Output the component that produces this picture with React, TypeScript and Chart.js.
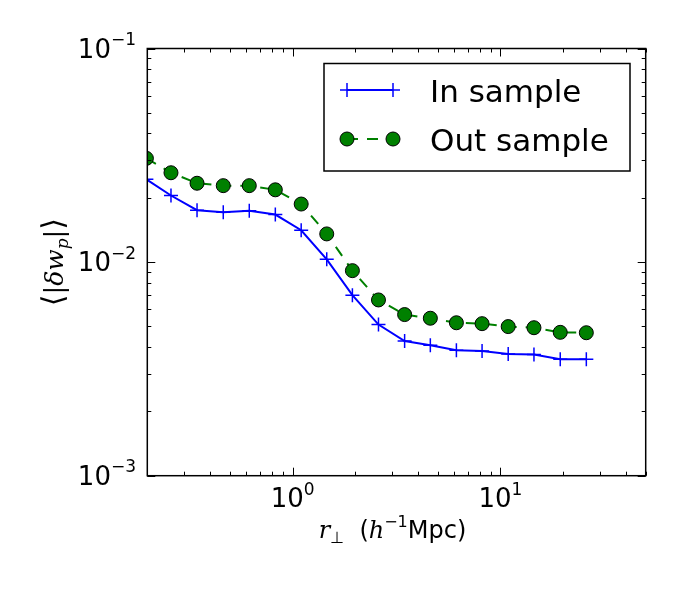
import React, { useEffect, useRef } from "react";
import { Chart, registerables } from "chart.js";

Chart.register(...registerables);

// ---- data ----
const rPerp = [0.198, 0.26, 0.347, 0.464, 0.619, 0.826, 1.1, 1.46, 1.94, 2.59, 3.46, 4.6, 6.14, 8.16, 10.9, 14.5, 19.4, 25.9];
const inSample = [0.0244, 0.0205, 0.0175, 0.0171, 0.0174, 0.0167, 0.0141, 0.0103, 0.007, 0.0051, 0.00427, 0.00408, 0.00387, 0.00384, 0.00371, 0.00369, 0.00351, 0.00351];
const outSample = [0.0306, 0.0262, 0.0234, 0.0228, 0.0228, 0.0218, 0.0187, 0.01355, 0.00912, 0.00665, 0.00568, 0.00546, 0.0052, 0.00515, 0.00499, 0.00493, 0.00469, 0.00467];
const seriesLabels = ["In sample", "Out sample"];
const xLimits = [0.2, 50];
const yLimits = [0.001, 0.1];
const xTickExponents = [0, 1];
const yTickExponents = [-3, -2, -1];

const sans = (px: number) => `${px}px "DejaVu Sans"`;
const serifIt = (px: number) => `italic ${px}px "DejaVu Serif"`;
const serif = (px: number) => `${px}px "DejaVu Serif"`;

type Run = { t: string; font: string; dy: number };

function runsWidth(ctx: CanvasRenderingContext2D, runs: Run[]) {
  let w = 0;
  for (const r of runs) {
    ctx.font = r.font;
    w += ctx.measureText(r.t).width;
  }
  return w;
}

function drawRuns(ctx: CanvasRenderingContext2D, runs: Run[], x: number, y: number) {
  let cx = x;
  for (const r of runs) {
    ctx.font = r.font;
    ctx.fillText(r.t, cx, y + r.dy);
    cx += ctx.measureText(r.t).width;
  }
}

const decoPlugin = {
  id: "deco",
  beforeDraw(chart: any) {
    const ctx = chart.ctx as CanvasRenderingContext2D;
    ctx.save();
    ctx.fillStyle = "#ffffff";
    ctx.fillRect(0, 0, chart.width, chart.height);
    ctx.restore();
  },
  afterDraw(chart: any) {
    const ctx = chart.ctx as CanvasRenderingContext2D;
    const { left, right, top, bottom } = chart.chartArea;
    const xs = chart.scales.x;
    const ys = chart.scales.y;
    ctx.save();
    ctx.strokeStyle = "#000";
    ctx.fillStyle = "#000";

    // ticks (inward on all four sides)
    ctx.lineWidth = 1;
    const tickVals = (min: number, max: number) => {
      const out: { v: number; major: boolean }[] = [];
      for (let e = Math.floor(Math.log10(min)); e <= Math.ceil(Math.log10(max)); e++) {
        for (let m = 1; m <= 9; m++) {
          const v = m * Math.pow(10, e);
          if (v >= min * 0.9999 && v <= max * 1.0001) out.push({ v, major: m === 1 });
        }
      }
      return out;
    };
    ctx.beginPath();
    for (const t of tickVals(xs.min, xs.max)) {
      const px = Math.round(xs.getPixelForValue(t.v)) + 0.5;
      const L = t.major ? 8 : 4;
      ctx.moveTo(px, bottom);
      ctx.lineTo(px, bottom - L);
      ctx.moveTo(px, top);
      ctx.lineTo(px, top + L);
    }
    for (const t of tickVals(ys.min, ys.max)) {
      const py = Math.round(ys.getPixelForValue(t.v)) + 0.5;
      const L = t.major ? 8 : 4;
      ctx.moveTo(left, py);
      ctx.lineTo(left + L, py);
      ctx.moveTo(right, py);
      ctx.lineTo(right - L, py);
    }
    ctx.stroke();

    // frame
    ctx.lineWidth = 1.5;
    ctx.strokeRect(left, top, right - left, bottom - top);

    // tick labels
    ctx.textAlign = "left";
    ctx.textBaseline = "alphabetic";
    for (const e of yTickExponents) {
      const py = ys.getPixelForValue(Math.pow(10, e));
      const runs: Run[] = [
        { t: "10", font: sans(26), dy: 0 },
        { t: "\u2212" + Math.abs(e), font: sans(17), dy: -12.4 },
      ];
      const w = runsWidth(ctx, runs);
      drawRuns(ctx, runs, 136 - w, py + 9);
    }
    for (const e of xTickExponents) {
      const px = xs.getPixelForValue(Math.pow(10, e));
      const runs: Run[] = [
        { t: "10", font: sans(26), dy: 0 },
        { t: (e < 0 ? "\u2212" : "") + Math.abs(e), font: sans(17), dy: -12.4 },
      ];
      const w = runsWidth(ctx, runs);
      drawRuns(ctx, runs, px - w / 2, 507);
    }

    // x axis title
    const xt: Run[] = [
      { t: "r", font: serifIt(24), dy: 0 },
      { t: "\u22A5", font: sans(16), dy: 5 },
      { t: "  (", font: sans(24), dy: 0 },
      { t: "h", font: serifIt(24), dy: 0 },
      { t: "\u22121", font: sans(16), dy: -11 },
      { t: "Mpc)", font: sans(24), dy: 0 },
    ];
    const xw = runsWidth(ctx, xt);
    drawRuns(ctx, xt, (left + right) / 2 - xw / 2 - 4, 538);

    // y axis title
    const yt: Run[] = [
      { t: "\u27E8", font: serif(30), dy: 0 },
      { t: "|", font: serif(26), dy: 0 },
      { t: "\u03B4w", font: serifIt(25), dy: 0 },
      { t: "p", font: serifIt(17), dy: 5 },
      { t: "|", font: serif(26), dy: 0 },
      { t: "\u27E9", font: serif(30), dy: 0 },
    ];
    const yw = runsWidth(ctx, yt);
    ctx.save();
    ctx.translate(63, (top + bottom) / 2);
    ctx.rotate(-Math.PI / 2);
    drawRuns(ctx, yt, -yw / 2, 0);
    ctx.restore();

    // legend
    const bx = 324, by = 63.5, bw = 306, bh = 107.5;
    ctx.fillStyle = "#fff";
    ctx.fillRect(bx, by, bw, bh);
    ctx.lineWidth = 1.5;
    ctx.strokeStyle = "#000";
    ctx.strokeRect(bx, by, bw, bh);

    const ds = chart.data.datasets;
    const rows = [90, 139];
    const x0 = 347, x1 = 393;
    ds.forEach((d: any, i: number) => {
      const y = rows[i];
      ctx.save();
      ctx.strokeStyle = d.borderColor;
      ctx.lineWidth = d.borderWidth;
      ctx.setLineDash(d.borderDash || []);
      ctx.beginPath();
      ctx.moveTo(x0, y);
      ctx.lineTo(x1, y);
      ctx.stroke();
      ctx.setLineDash([]);
      for (const mx of [x0, x1]) {
        const r = d.pointRadius;
        if (d.pointStyle === "cross") {
          ctx.strokeStyle = d.pointBorderColor;
          ctx.lineWidth = d.pointBorderWidth;
          ctx.beginPath();
          ctx.moveTo(mx - r, y);
          ctx.lineTo(mx + r, y);
          ctx.moveTo(mx, y - r);
          ctx.lineTo(mx, y + r);
          ctx.stroke();
        } else {
          ctx.fillStyle = d.pointBackgroundColor;
          ctx.strokeStyle = d.pointBorderColor;
          ctx.lineWidth = d.pointBorderWidth;
          ctx.beginPath();
          ctx.arc(mx, y, r, 0, Math.PI * 2);
          ctx.fill();
          ctx.stroke();
        }
      }
      ctx.restore();
      ctx.fillStyle = "#000";
      ctx.font = sans(31);
      ctx.textAlign = "left";
      ctx.fillText(d.label, 430, y + 11.5);
    });

    ctx.restore();
  },
};

export default function App() {
  const ref = useRef<HTMLCanvasElement | null>(null);

  useEffect(() => {
    const canvas = ref.current;
    if (!canvas) return;
    const chart = new Chart(canvas, {
      type: "line",
      data: {
        datasets: [
          {
            label: seriesLabels[0],
            data: rPerp.map((x, i) => ({ x, y: inSample[i] })),
            borderColor: "#0000ff",
            borderWidth: 2,
            pointStyle: "cross",
            pointRadius: 7,
            pointBorderColor: "#0000ff",
            pointBorderWidth: 1.5,
            fill: false,
            tension: 0,
          } as any,
          {
            label: seriesLabels[1],
            data: rPerp.map((x, i) => ({ x, y: outSample[i] })),
            borderColor: "#008000",
            borderWidth: 2,
            borderDash: [11, 9],
            pointStyle: "circle",
            pointRadius: 7,
            pointBackgroundColor: "#008000",
            pointBorderColor: "#000000",
            pointBorderWidth: 1,
            fill: false,
            tension: 0,
          } as any,
        ],
      },
      options: {
        responsive: false,
        animation: false,
        devicePixelRatio: 1,
        layout: { padding: { left: 0, top: 48.5, right: 29.3, bottom: 0 } },
        plugins: { legend: { display: false }, tooltip: { enabled: false } },
        scales: {
          x: {
            type: "logarithmic",
            min: xLimits[0],
            max: xLimits[1],
            grid: { display: false },
            border: { display: false },
            ticks: { display: false },
            afterFit: (s: any) => {
              s.height = 124.3;
            },
          },
          y: {
            type: "logarithmic",
            min: yLimits[0],
            max: yLimits[1],
            grid: { display: false },
            border: { display: false },
            ticks: { display: false },
            afterFit: (s: any) => {
              s.width = 147.3;
            },
          },
        },
      } as any,
      plugins: [decoPlugin],
    });
    return () => chart.destroy();
  }, []);

  return (
    <div style={{ position: "fixed", left: 0, top: 0, width: 675, height: 600, background: "#fff" }}>
      <canvas ref={ref} width={675} height={600} style={{ display: "block" }} />
    </div>
  );
}
